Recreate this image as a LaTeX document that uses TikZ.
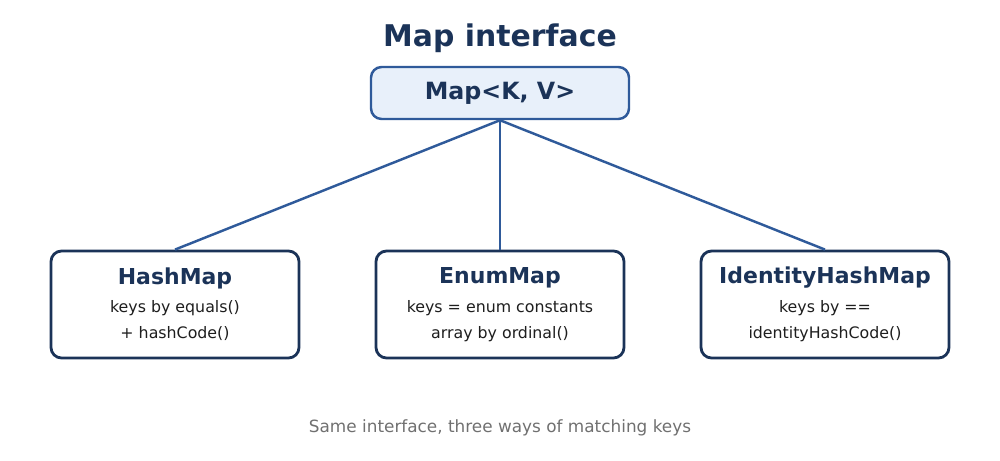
\documentclass[tikz,border=0pt]{standalone}
\usepackage{fontspec}
\setmainfont{DejaVu Sans}
\usepackage{xcolor}
\definecolor{navy}{HTML}{1B3358}
\definecolor{linkblue}{HTML}{2F5A9A}
\definecolor{paleblue}{HTML}{E8F0FA}
\definecolor{capgray}{HTML}{707070}
\definecolor{bodytext}{HTML}{1E1E1E}

\begin{document}
\begin{tikzpicture}[x=0.02cm,y=-0.02cm,
  impl/.style={draw=navy,line width=1.6pt,rounded corners=6pt,fill=white,
               minimum width=248*0.02cm,minimum height=107*0.02cm},
  link/.style={draw=linkblue,line width=1.4pt}]
  \useasboundingbox (0,0) rectangle (1000,460);

  \node (title) at (500,38) {\fontsize{17}{20}\selectfont\bfseries\color{navy}Map interface};
  \node (map) [draw=linkblue,line width=1.4pt,fill=paleblue,rounded corners=6pt,
    minimum width=258*0.02cm,minimum height=52*0.02cm] at (500,93)
    {\fontsize{13.5}{16}\selectfont\bfseries\color{navy}Map<K, V>};

  \node (hash)  [impl] at (175,304.5) {};
  \node (enum)  [impl] at (500,304.5) {};
  \node (ident) [impl] at (825,304.5) {};

  \draw[link] (map.south) -- (hash.north);
  \draw[link] (map.south) -- (enum.north);
  \draw[link] (map.south) -- (ident.north);

  \node (hashT) at (175,278) {\fontsize{12.5}{15}\selectfont\bfseries\color{navy}HashMap};
  \node (hashA) at (175,308) {\fontsize{9}{11}\selectfont\color{bodytext}keys by equals()};
  \node (hashB) at (175,334) {\fontsize{9}{11}\selectfont\color{bodytext}+ hashCode()};

  \node (enumT) at (500,278) {\fontsize{12.5}{15}\selectfont\bfseries\color{navy}EnumMap};
  \node (enumA) at (500,308) {\fontsize{9}{11}\selectfont\color{bodytext}keys = enum constants};
  \node (enumB) at (500,334) {\fontsize{9}{11}\selectfont\color{bodytext}array by ordinal()};

  \node (identT) at (825,278) {\fontsize{12.5}{15}\selectfont\bfseries\color{navy}IdentityHashMap};
  \node (identA) at (825,308) {\fontsize{9}{11}\selectfont\color{bodytext}keys by ==};
  \node (identB) at (825,334) {\fontsize{9}{11}\selectfont\color{bodytext}identityHashCode()};

  \node (caption) at (500,428) {\fontsize{9.6}{12}\selectfont\color{capgray}Same interface, three ways of matching keys};
\end{tikzpicture}
\end{document}
